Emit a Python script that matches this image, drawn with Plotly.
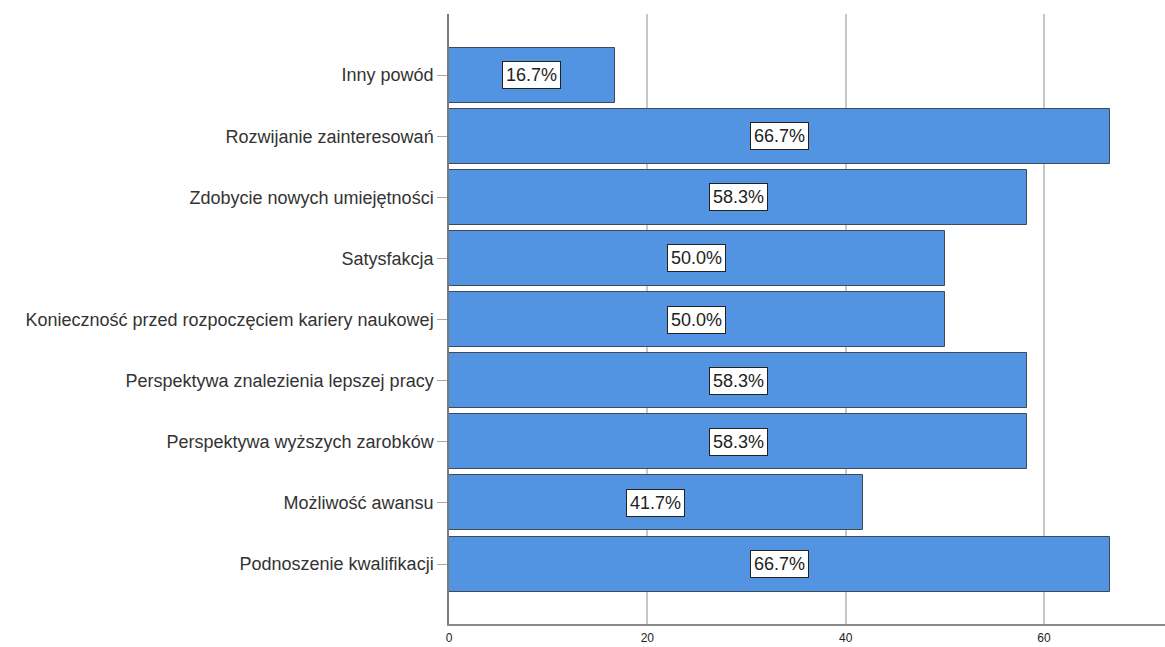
import plotly.graph_objects as go

categories = [
    "Inny powód",
    "Rozwijanie zainteresowań",
    "Zdobycie nowych umiejętności",
    "Satysfakcja",
    "Konieczność przed rozpoczęciem kariery naukowej",
    "Perspektywa znalezienia lepszej pracy",
    "Perspektywa wyższych zarobków",
    "Możliwość awansu",
    "Podnoszenie kwalifikacji",
]
values = [16.7, 66.7, 58.3, 50.0, 50.0, 58.3, 58.3, 41.7, 66.7]
labels = ["16.7%", "66.7%", "58.3%", "50.0%", "50.0%", "58.3%", "58.3%", "41.7%", "66.7%"]
x_ticks = [0, 20, 40, 60]

FONT = "Liberation Sans, Arial, sans-serif"

fig = go.Figure()
fig.add_trace(go.Bar(
    y=categories,
    x=values,
    orientation="h",
    width=0.9,
    marker=dict(color="#5294e2", line=dict(color="#3d4a5a", width=1)),
    hoverinfo="skip",
))

for c, v, t in zip(categories, values, labels):
    fig.add_annotation(
        x=v / 2, y=c, xref="x", yref="y",
        text=t, showarrow=False,
        font=dict(family=FONT, size=18, color="#222222"),
        bgcolor="white", bordercolor="#222222", borderwidth=1, borderpad=3,
    )

fig.update_layout(
    width=1165, height=647,
    margin=dict(l=449, r=0, t=14, b=23, autoexpand=False),
    plot_bgcolor="white", paper_bgcolor="white",
    showlegend=False,
    bargap=0,
    font=dict(family=FONT, color="#222222"),
)
fig.update_xaxes(
    range=[0, 72.2],
    tickvals=x_ticks,
    ticktext=[str(v) for v in x_ticks],
    showgrid=True, gridcolor="#c8c8c8", gridwidth=1.5,
    showline=True, linecolor="#8a8a8a", linewidth=1.5,
    zeroline=False,
    ticks="outside", ticklen=2, tickcolor="rgba(0,0,0,0)",
    tickfont=dict(family=FONT, size=12, color="#222222"),
    automargin=False,
)
fig.update_yaxes(
    categoryorder="array",
    categoryarray=categories,
    autorange=False,
    range=[8.98, -1.0],
    showgrid=False,
    showline=True, linecolor="#7a7a7a", linewidth=1.5,
    zeroline=False,
    ticks="outside", ticklen=10, tickcolor="#aaaaaa", tickwidth=1,
    tickfont=dict(family=FONT, size=18, color="#333333"),
    automargin=False,
)

fig.write_html(
    "out.html",
    config={"displayModeBar": False},
    post_script="document.body.style.margin='0';document.body.style.overflow='hidden';",
)
